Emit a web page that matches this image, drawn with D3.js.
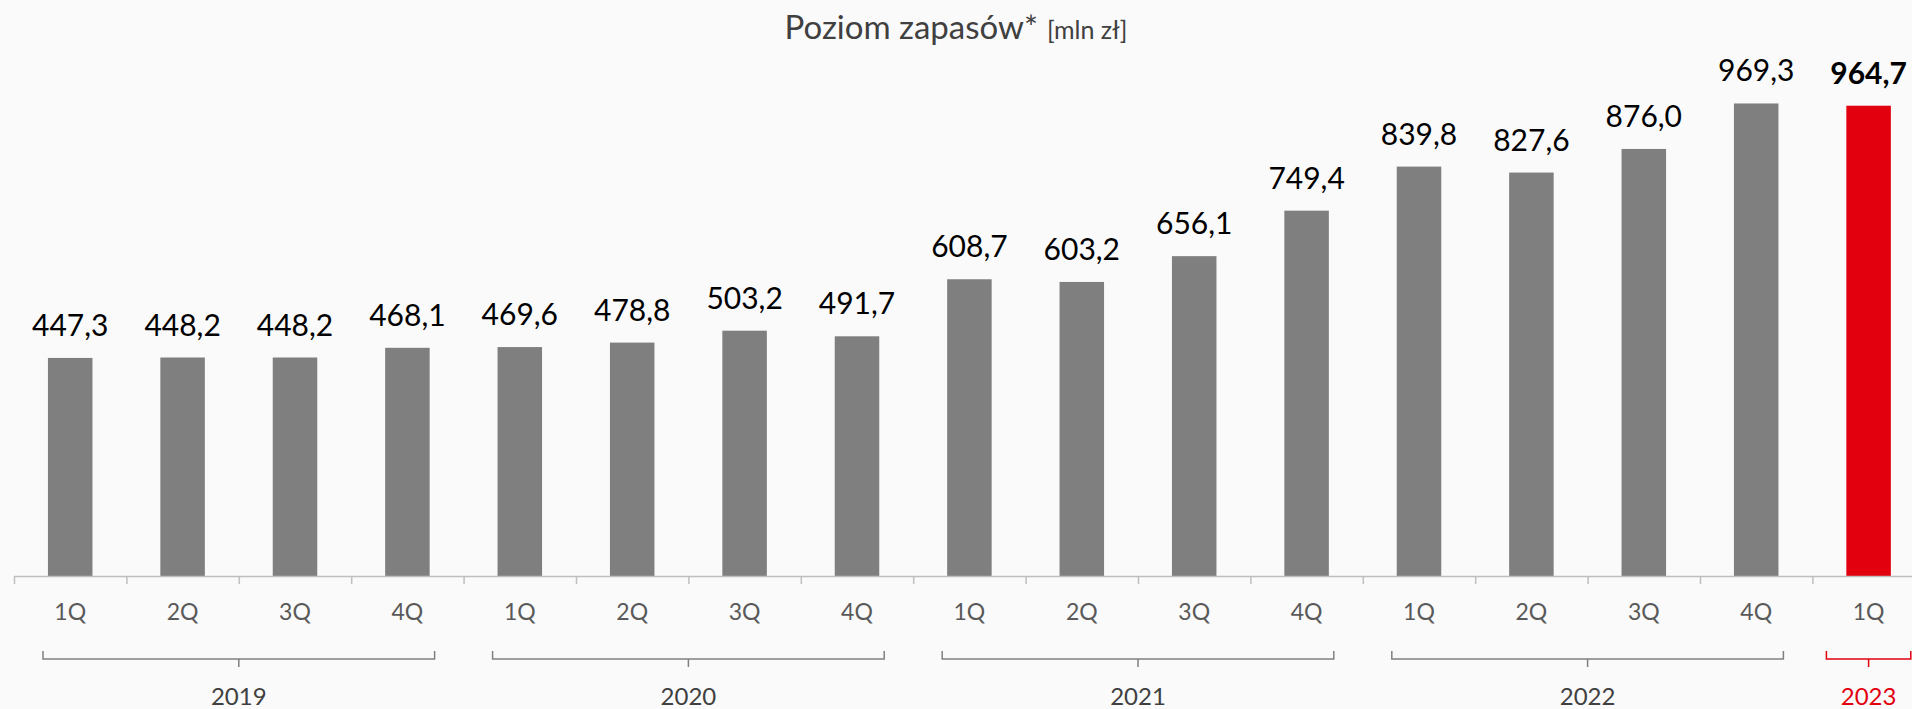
<!DOCTYPE html>
<html>
<head>
<meta charset="utf-8">
<script src="https://cdnjs.cloudflare.com/ajax/libs/d3/7.8.5/d3.min.js"></script>
<style>
  html, body { margin: 0; padding: 0; background: #fafafa; overflow: hidden; }
  svg { display: block; font-family: Lato, "Open Sans", sans-serif; }
</style>
</head>
<body>
<div id="chart"></div>
<script>
// ----------------------------------------
// DATA

var quarters = ["1Q", "2Q", "3Q", "4Q", "1Q", "2Q", "3Q", "4Q", "1Q", "2Q", "3Q", "4Q", "1Q", "2Q", "3Q", "4Q", "1Q"];
var barYears = ["2019", "2019", "2019", "2019", "2020", "2020", "2020", "2020", "2021", "2021", "2021", "2021", "2022", "2022", "2022", "2022", "2023"];
var values = [447.3, 448.2, 448.2, 468.1, 469.6, 478.8, 503.2, 491.7, 608.7, 603.2, 656.1, 749.4, 839.8, 827.6, 876.0, 969.3, 964.7];
var years = ["2019", "2020", "2021", "2022", "2023"];
var highlightYear = "2023";

var title = "Poziom zapasów*";
var unit = "[mln zł]";

// ----------------------------------------
// LAYOUT

var width = 1912;
var height = 709;
var left = 14;
var step = 112.4;
var baseY = 576;

var grey = "#7f7f7f";
var red = "#e2000f";

var svg = d3.select("#chart").append("svg")
  .attr("width", width)
  .attr("height", height);

// scales
var x = d3.scaleBand()
  .domain(d3.range(values.length))
  .range([left, left + values.length * step])
  .paddingInner(0.604)
  .paddingOuter(0.302);

// edges of each quarter slot, used for ticks and brackets
var xEdge = d3.scaleLinear()
  .domain([0, values.length])
  .range([left, left + values.length * step]);

var y = d3.scaleLinear()
  .domain([0, 1000])
  .range([baseY, baseY - 487.5]);

// title
var titleText = svg.append("text")
  .attr("x", width / 2)
  .attr("y", 39)
  .attr("text-anchor", "middle")
  .attr("fill", "#404040");
titleText.append("tspan")
  .attr("font-size", 33)
  .text(title);
titleText.append("tspan")
  .attr("font-size", 25)
  .attr("dx", 9)
  .text(unit);

// bars
svg.selectAll("rect.bar")
  .data(values)
  .enter().append("rect")
  .attr("class", "bar")
  .attr("x", function (d, i) { return x(i); })
  .attr("y", function (d) { return y(d); })
  .attr("width", x.bandwidth())
  .attr("height", function (d) { return y(0) - y(d); })
  .attr("fill", function (d, i) { return barYears[i] == highlightYear ? red : grey; });

// value labels
var fmt = d3.format(".1f");
svg.selectAll("text.value")
  .data(values)
  .enter().append("text")
  .attr("class", "value")
  .attr("x", function (d, i) { return x(i) + x.bandwidth() / 2; })
  .attr("y", function (d) { return y(d) - 22; })
  .attr("text-anchor", "middle")
  .attr("font-size", 30)
  .attr("font-weight", function (d, i) { return barYears[i] == highlightYear ? "bold" : "normal"; })
  .attr("fill", "#000")
  .text(function (d) { return fmt(d).replace(".", ","); });

// axis with ticks between quarters
var axis = svg.append("g")
  .attr("transform", "translate(0," + baseY + ")")
  .call(d3.axisBottom(xEdge)
    .tickValues(d3.range(values.length))
    .tickSize(8)
    .tickSizeOuter(0)
    .tickFormat(""));
axis.selectAll("path, line")
  .attr("stroke", "#bfbfbf")
  .attr("stroke-width", 1.5);

// quarter labels
svg.selectAll("text.quarter")
  .data(quarters)
  .enter().append("text")
  .attr("class", "quarter")
  .attr("x", function (d, i) { return x(i) + x.bandwidth() / 2; })
  .attr("y", 620)
  .attr("text-anchor", "middle")
  .attr("font-size", 23)
  .attr("fill", "#595959")
  .text(function (d) { return d; });

// year brackets
var bracketY = 659;
years.forEach(function (yr) {
  var first = barYears.indexOf(yr);
  var last = barYears.lastIndexOf(yr);
  var inset = last > first ? 29 : 14;
  var x0 = xEdge(first) + inset;
  var x1 = xEdge(last + 1) - inset;
  var cx = (xEdge(first) + xEdge(last + 1)) / 2;
  var col = yr == highlightYear ? red : "#808080";

  svg.append("path")
    .attr("d", "M" + x0 + "," + (bracketY - 8) + "V" + bracketY + "H" + x1 + "V" + (bracketY - 8) +
      "M" + cx + "," + bracketY + "V" + (bracketY + 8))
    .attr("fill", "none")
    .attr("stroke", col)
    .attr("stroke-width", 1.5);

  svg.append("text")
    .attr("x", cx)
    .attr("y", 705)
    .attr("text-anchor", "middle")
    .attr("font-size", 24)
    .attr("fill", yr == highlightYear ? red : "#404040")
    .text(yr);
});
</script>
</body>
</html>
